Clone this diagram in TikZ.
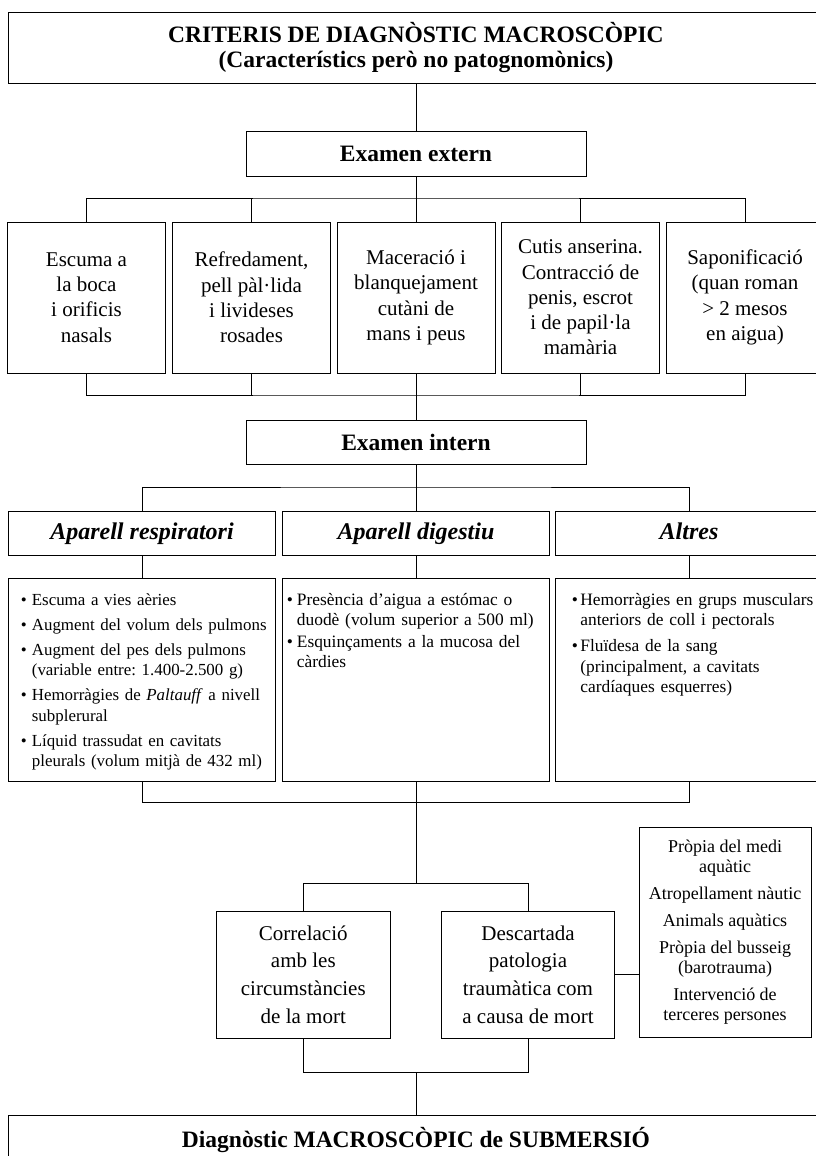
\documentclass[tikz,border=0pt]{standalone}
\usepackage{fontspec}
\setmainfont{Liberation Serif}
\frenchspacing
\newcommand\fTitle{\fontsize{23.5}{25}\selectfont\bfseries}
\newcommand\fHead{\fontsize{24}{28}\selectfont\bfseries\itshape}
\newcommand\fExt{\fontsize{21}{25.3}\selectfont}
\newcommand\fMid{\fontsize{21}{27.6}\selectfont}
\newcommand\fBul{\fontsize{17.4}{20.5}\selectfont}
\newcommand\fBulA{\fontsize{16.9}{20.5}\selectfont}
\newcommand\fRight{\fontsize{18}{20}\selectfont}
\newcommand\nl{\unskip\nobreak\hfil\break}
\newcommand\bul[2]{\hangindent=#1\hangafter=1\noindent\makebox[#1][l]{•}#2\par}
\begin{document}
\begin{tikzpicture}[x=1pt,y=-1pt,
  box/.style={draw, line width=0.9pt, inner sep=0pt, outer sep=0pt, align=center},
  ln/.style={line width=0.9pt},
  bultext/.style={anchor=north west, inner sep=0pt, text width=300pt, font=\fBul}]
\clip (0,0) rectangle (816,1156);
\fill[white] (0,0) rectangle (816,1156);

% title
\node[box, minimum width=815, minimum height=71, font=\fTitle] (title) at (416,47.5)
  {CRITERIS DE DIAGNÒSTIC MACROSCÒPIC\\(Característics però no patognomònics)};
\node[box, minimum width=340, minimum height=45, font=\fTitle] (ext) at (416,153.5) {Examen extern};

% external exam boxes
\begin{scope}[every node/.style={box, minimum width=158, minimum height=151, font=\fExt}]
\node (e1) at (86.5,297.5) {Escuma a\\la boca\\i orificis\\nasals};
\node (e2) at (251.5,297.5) {Refredament,\\pell pàl·lida\\i livideses\\rosades};
\node (e3) at (416,297.5) {Maceració i\\blanquejament\\cutàni de\\mans i peus};
\node (e4) at (580.5,297.5) {Cutis anserina.\\Contracció de\\penis, escrot\\i de papil·la\\mamària};
\node (e5) at (745,297.5) {Saponificació\\(quan roman\\> 2 mesos\\en aigua)};
\end{scope}

\coordinate (bus1) at (416,198);
\coordinate (bus2) at (416,395);
\draw[ln] (title.south) -- (ext.north);
\draw[ln] (ext.south) -- (bus1);
\draw[ln] (e1.north) |- (bus1) -| (e5.north);
\draw[ln] (e2.north) -- (e2.north |- bus1);
\draw[ln] (e3.north) -- (bus1);
\draw[ln] (e4.north) -- (e4.north |- bus1);
\draw[ln] (e1.south) |- (bus2) -| (e5.south);
\draw[ln] (e2.south) -- (e2.south |- bus2);
\draw[ln] (e3.south) -- (bus2);
\draw[ln] (e4.south) -- (e4.south |- bus2);

% internal exam
\node[box, minimum width=340, minimum height=44, font=\fTitle] (int) at (416,442) {Examen intern};
\draw[ln] (bus2) -- (int.north);

\begin{scope}[every node/.style={box, minimum width=267, minimum height=44, font=\fHead, text height=16.5pt, text depth=4pt}]
\node (h1) at (142,533) {Aparell respiratori};
\node (h2) at (416,533) {Aparell digestiu};
\node (h3) at (689,533) {Altres};
\end{scope}
\coordinate (bus3) at (416,487);
\draw[ln] (int.south) -- (bus3);
\draw[ln] (h1.north) |- (bus3) -| (h3.north);
\draw[ln] (h2.north) -- (bus3);

\begin{scope}[every node/.style={box, minimum width=267, minimum height=203}]
\node (c1) at (142,679.5) {};
\node (c2) at (416,679.5) {};
\node (c3) at (689,679.5) {};
\end{scope}
\draw[ln] (h1.south) -- (c1.north);
\draw[ln] (h2.south) -- (c2.north);
\draw[ln] (h3.south) -- (c3.north);

\node[bultext, font=\fBulA] (t1) at (20.7,590.6) {\setlength{\parskip}{4.5pt}%
\bul{11pt}{\strut Escuma a vies aèries}
\bul{11pt}{Augment del volum dels pulmons}
\bul{11pt}{Augment del pes dels pulmons\nl(variable entre: 1.400-2.500 g)}
\bul{11pt}{Hemorràgies de \textit{Paltauff} a nivell\nl subplerural}
\bul{11pt}{Líquid trassudat en cavitats\nl pleurals (volum mitjà de 432 ml)}};

\node[bultext] (t2) at (286.7,590.6) {\setlength{\parskip}{1pt}%
\bul{10pt}{\strut Presència d’aigua a estómac o\nl duodè (volum superior a 500 ml)}
\bul{10pt}{Esquinçaments a la mucosa del\nl càrdies}};

\node[bultext] (t3) at (571.7,590.6) {\setlength{\parskip}{5.5pt}%
\bul{8.5pt}{\strut Hemorràgies en grups musculars\nl anteriors de coll i pectorals}
\bul{8.5pt}{Fluïdesa de la sang\nl(principalment, a cavitats\nl cardíaques esquerres)}};

\coordinate (bus4) at (416,802);
\coordinate (bus5) at (416,883);
\draw[ln] (c1.south) |- (bus4) -| (c3.south);
\draw[ln] (c2.south) -- (bus4);
\draw[ln] (bus4) -- (bus5);

\begin{scope}[every node/.style={box, minimum width=173.5, minimum height=127, font=\fMid}]
\node (k1) at (303.3,974.5) {Correlació\\amb les\\circumstàncies\\de la mort};
\node (k2) at (528,974.5) {Descartada\\patologia\\traumàtica com\\a causa de mort};
\end{scope}
\draw[ln] (k1.north) |- (bus5) -| (k2.north);

\node[box, minimum width=172, minimum height=210, font=\fRight] (r) at (725,932)
  {Pròpia del medi\\aquàtic\\[7pt]Atropellament nàutic\\[7pt]Animals aquàtics\\[7pt]Pròpia del busseig\\(barotrauma)\\[7pt]Intervenció de\\terceres persones};
\draw[ln] (k2.east) -- (k2.east -| r.west);

\node[box, minimum width=815, minimum height=50, font=\fTitle] (diag) at (416,1140)
  {Diagnòstic MACROSCÒPIC de SUBMERSIÓ};
\coordinate (bus6) at (416,1072);
\draw[ln] (k1.south) |- (bus6) -| (k2.south);
\draw[ln] (bus6) -- (diag.north);
\end{tikzpicture}
\end{document}
